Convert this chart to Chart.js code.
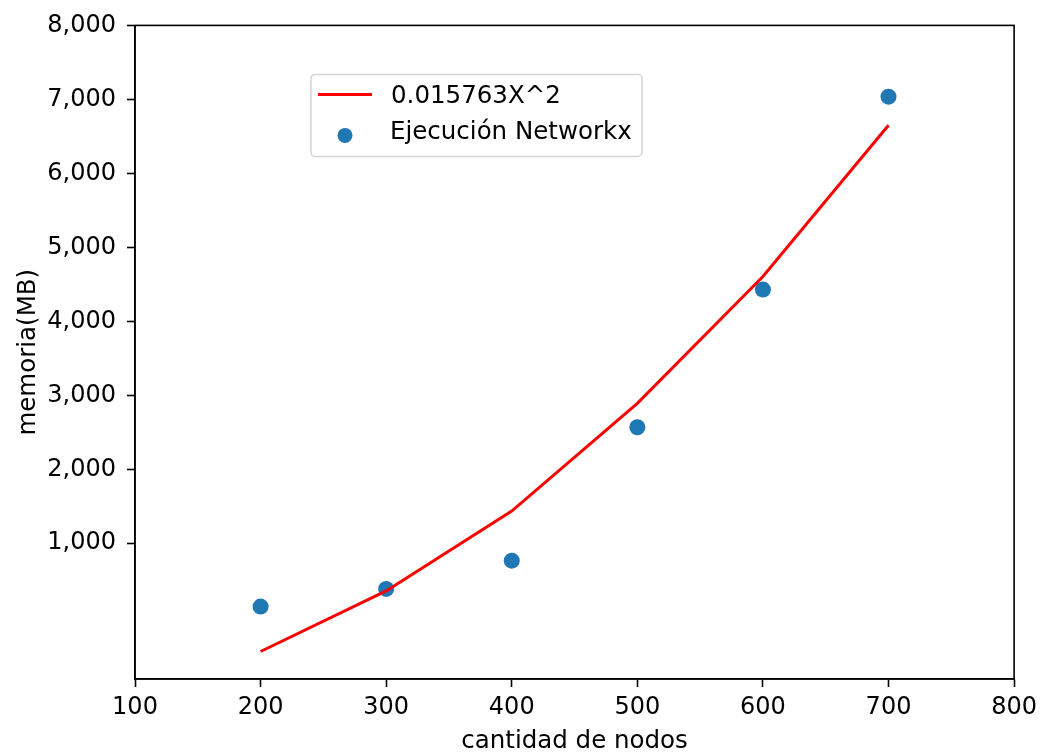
<!DOCTYPE html>
<html>
<head>
<meta charset="utf-8">
<script src="https://cdn.jsdelivr.net/npm/chart.js@4.4.1/dist/chart.umd.min.js"></script>
<style>
    html, body { margin: 0; padding: 0; background: #fff; }
    #wrap { width: 1043px; height: 756px; }
</style>
</head>
<body>
<div id="wrap"><canvas id="chart" width="1043" height="756"></canvas></div>
<script>
// Data
const nodeCounts = [200, 300, 400, 500, 600, 700];
const fitMemory = [-463, 356, 1435, 2892, 4605, 6651];
const runMemory = [144, 383, 765, 2568, 4429, 7036];
const yTicks = [1000, 2000, 3000, 4000, 5000, 6000, 7000, 8000];
const seriesLabels = ['0.015763X^2', 'Ejecución Networkx'];
const xLabel = 'cantidad de nodos';
const yLabel = 'memoria(MB)';

const FONT = '"DejaVu Sans", sans-serif';
const RED = '#ff0000';
const BLUE = '#1f77b4';

// Draw the top/right spines as a frame around the plot
const framePlugin = {
    id: 'frame',
    afterDatasetsDraw(chart) {
        const { ctx, chartArea: a } = chart;
        ctx.save();
        ctx.strokeStyle = '#000';
        ctx.lineWidth = 1.6;
        ctx.strokeRect(a.left, a.top, a.right - a.left, a.bottom - a.top);
        ctx.restore();
    }
};

// Legend box inside the plot, matplotlib style
const legendPlugin = {
    id: 'innerLegend',
    afterDraw(chart) {
        const { ctx, chartArea: a } = chart;
        const x = a.left + 176, y = a.top + 49, w = 331, h = 82;
        ctx.save();
        ctx.fillStyle = 'rgba(255,255,255,0.8)';
        ctx.strokeStyle = '#d5d5d5';
        ctx.lineWidth = 1.5;
        ctx.beginPath();
        ctx.roundRect(x, y, w, h, 4);
        ctx.fill();
        ctx.stroke();

        // line handle
        ctx.strokeStyle = RED;
        ctx.lineWidth = 3;
        ctx.beginPath();
        ctx.moveTo(x + 7, y + 20);
        ctx.lineTo(x + 61, y + 20);
        ctx.stroke();

        // marker handle
        ctx.fillStyle = BLUE;
        ctx.beginPath();
        ctx.arc(x + 34, y + 61, 7.5, 0, Math.PI * 2);
        ctx.fill();

        ctx.fillStyle = '#000';
        ctx.font = '24.5px ' + FONT;
        ctx.textBaseline = 'middle';
        ctx.fillText(seriesLabels[0], x + 80, y + 22);
        ctx.fillText(seriesLabels[1], x + 79, y + 58);
        ctx.restore();
    }
};

const ctx = document.getElementById('chart');
new Chart(ctx, {
    type: 'scatter',
    data: {
        datasets: [
            {
                label: seriesLabels[0],
                data: nodeCounts.map((x, i) => ({ x: x, y: fitMemory[i] })),
                showLine: true,
                borderColor: RED,
                borderWidth: 3,
                pointRadius: 0,
                tension: 0,
                order: 0
            },
            {
                label: seriesLabels[1],
                data: nodeCounts.map((x, i) => ({ x: x, y: runMemory[i] })),
                backgroundColor: BLUE,
                borderWidth: 0,
                pointRadius: 8,
                order: 1
            }
        ]
    },
    options: {
        responsive: false,
        animation: false,
        devicePixelRatio: 1,
        layout: { padding: { top: 24, right: 28, left: 0, bottom: 0 } },
        plugins: {
            legend: { display: false },
            tooltip: { enabled: false }
        },
        scales: {
            x: {
                type: 'linear',
                min: 100,
                max: 800,
                afterFit: (scale) => { scale.height = 77; },
                ticks: {
                    stepSize: 100,
                    color: '#000',
                    padding: 6,
                    font: { family: FONT, size: 24 }
                },
                grid: {
                    drawOnChartArea: false,
                    tickLength: 8,
                    tickWidth: 1.6,
                    tickColor: '#000'
                },
                border: { color: '#000', width: 1.6 },
                title: {
                    display: true,
                    text: xLabel,
                    color: '#000',
                    padding: { top: 0, bottom: 0 },
                    font: { family: FONT, size: 24.5 }
                }
            },
            y: {
                type: 'linear',
                min: -835,
                max: 8000,
                afterFit: (scale) => { scale.width = 135; },
                afterBuildTicks: (scale) => {
                    scale.ticks = yTicks.map(v => ({ value: v }));
                },
                ticks: {
                    color: '#000',
                    padding: 11,
                    font: { family: FONT, size: 24 },
                    callback: (value) => value.toLocaleString('en-US')
                },
                grid: {
                    drawOnChartArea: false,
                    tickLength: 8,
                    tickWidth: 1.6,
                    tickColor: '#000'
                },
                border: { color: '#000', width: 1.6 },
                title: {
                    display: true,
                    text: yLabel,
                    color: '#000',
                    padding: { top: 14, bottom: 0 },
                    font: { family: FONT, size: 24.5 }
                }
            }
        }
    },
    plugins: [framePlugin, legendPlugin]
});
</script>
</body>
</html>
